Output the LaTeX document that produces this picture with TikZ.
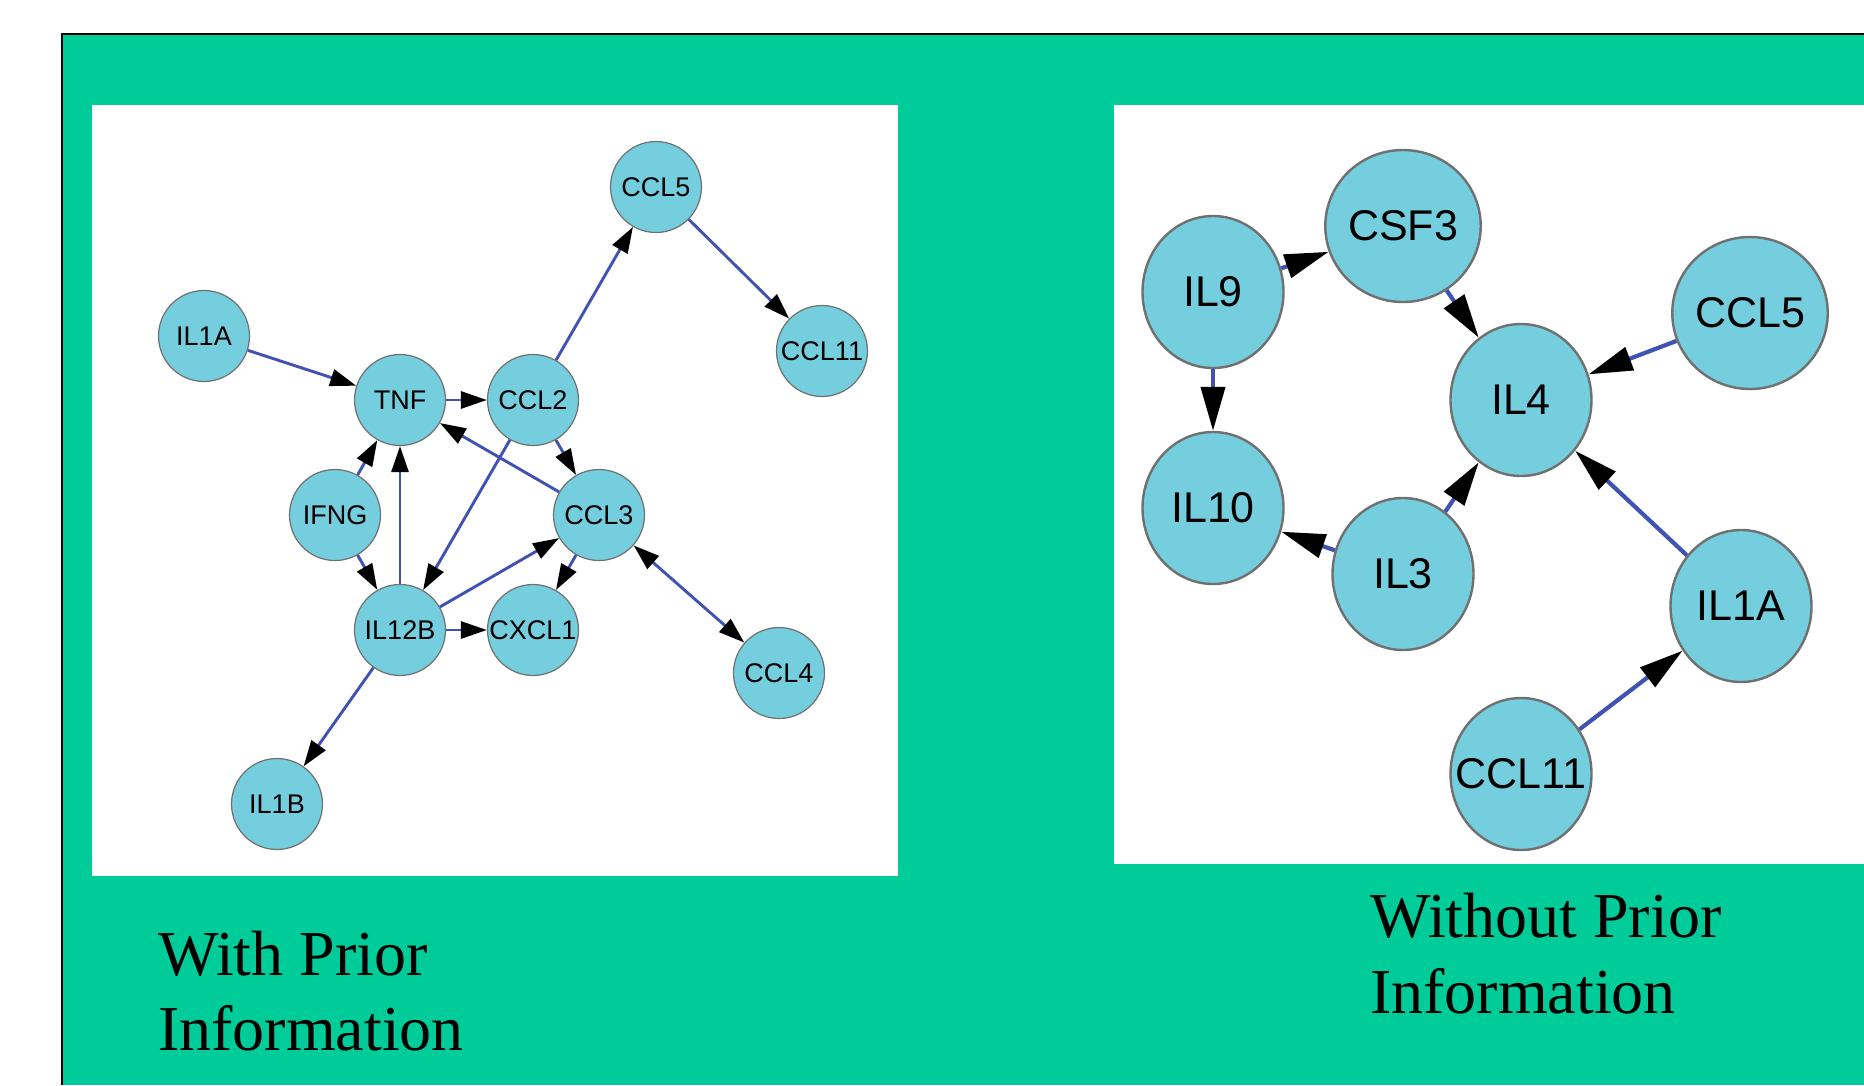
\documentclass[tikz,border=0pt]{standalone}
\usepackage{fontspec}
\setmainfont{Liberation Serif}
\newfontfamily\arialf{Liberation Sans}
\usetikzlibrary{arrows.meta,shapes.geometric}
\definecolor{bggreen}{RGB}{0,204,153}
\definecolor{nodefill}{RGB}{116,206,222}
\definecolor{nodeline}{RGB}{112,112,112}
\definecolor{edgeblue}{RGB}{64,82,178}
\begin{document}
\begin{tikzpicture}[x=1pt,y=-1pt,
  smallnode/.style={circle, draw=nodeline, fill=nodefill, line width=1.2pt, minimum size=91pt, inner sep=0pt, font=\arialf\fontsize{27}{27}\selectfont},
  bignode/.style={ellipse, draw=nodeline, fill=nodefill, line width=2.4pt, minimum width=141pt, minimum height=152pt, inner sep=0pt, font=\arialf\fontsize{43}{43}\selectfont},
  smalledge/.style={draw=edgeblue, line width=2.9pt, -{Triangle[length=26pt,width=17pt,color=black]}},
  bigedge/.style={draw=edgeblue, line width=4.2pt, -{Triangle[length=44pt,width=24pt,color=black]}},
  caption/.style={anchor=base west, inner sep=0pt, font=\fontsize{64}{64}\selectfont}
]
\useasboundingbox (0,0) rectangle (1864,1085);
\fill[white] (0,0) rectangle (1864,1085);
\fill[bggreen] (62,34) rectangle (1864,1085);
\draw[black, line width=2pt] (62,1085) -- (62,34) -- (1864,34);
\fill[white] (91.5,104.5) rectangle (897.5,876);
\fill[white] (1114,104.5) rectangle (1864,864);

% left network
\node[smallnode] (LCCL5) at (656,187) {CCL5};
\node[smallnode] (LIL1A) at (204,336) {IL1A};
\node[smallnode] (LCCL11) at (822,351) {CCL11};
\node[smallnode] (LTNF) at (400,400) {TNF};
\node[smallnode] (LCCL2) at (533,400) {CCL2};
\node[smallnode] (LIFNG) at (335,515) {IFNG};
\node[smallnode] (LCCL3) at (599,515) {CCL3};
\node[smallnode] (LIL12B) at (400,630) {IL12B};
\node[smallnode] (LCXCL1) at (533,630) {CXCL1};
\node[smallnode] (LCCL4) at (779,673) {CCL4};
\node[smallnode] (LIL1B) at (277,804) {IL1B};

\draw[smalledge] (LIL1A) -- (LTNF);
\draw[smalledge] (LTNF) -- (LCCL2);
\draw[smalledge] (LCCL2) -- (LCCL5);
\draw[smalledge] (LCCL5) -- (LCCL11);
\draw[smalledge] (LCCL2) -- (LCCL3);
\draw[smalledge] (LCCL3) -- (LTNF);
\draw[smalledge] (LIFNG) -- (LTNF);
\draw[smalledge] (LIFNG) -- (LIL12B);
\draw[smalledge] (LIL12B) -- (LTNF);
\draw[smalledge] (LCCL2) -- (LIL12B);
\draw[smalledge] (LIL12B) -- (LCCL3);
\draw[smalledge] (LIL12B) -- (LCXCL1);
\draw[smalledge] (LCCL3) -- (LCXCL1);
\draw[smalledge, {Triangle[length=26pt,width=17pt,color=black]}-{Triangle[length=26pt,width=17pt,color=black]}] (LCCL3) -- (LCCL4);
\draw[smalledge] (LIL12B) -- (LIL1B);

% right network
\node[bignode] (RCSF3) at (1403,226) {CSF3};
\node[bignode] (RIL9) at (1213,292) {IL9};
\node[bignode] (RCCL5) at (1750,313) {CCL5};
\node[bignode] (RIL4) at (1521,400) {IL4};
\node[bignode] (RIL10) at (1213,508) {IL10};
\node[bignode] (RIL3) at (1403,574) {IL3};
\node[bignode] (RIL1A) at (1741,606) {IL1A};
\node[bignode] (RCCL11) at (1521,774) {\makebox[0pt]{CCL11}};

\draw[bigedge] (RIL9) -- (RCSF3);
\draw[bigedge] (RCSF3) -- (RIL4);
\draw[bigedge] (RIL9) -- (RIL10);
\draw[bigedge] (RCCL5) -- (RIL4);
\draw[bigedge] (RIL3) -- (RIL4);
\draw[bigedge] (RIL3) -- (RIL10);
\draw[bigedge] (RIL1A) -- (RIL4);
\draw[bigedge] (RCCL11) -- (RIL1A);

% captions
\node[caption] (c1) at (158,975) {With Prior};
\node[caption] (c2) at (158,1050) {Information};
\node[caption] (c3) at (1370,937) {Without Prior};
\node[caption] (c4) at (1370,1013) {Information};
\end{tikzpicture}
\end{document}
